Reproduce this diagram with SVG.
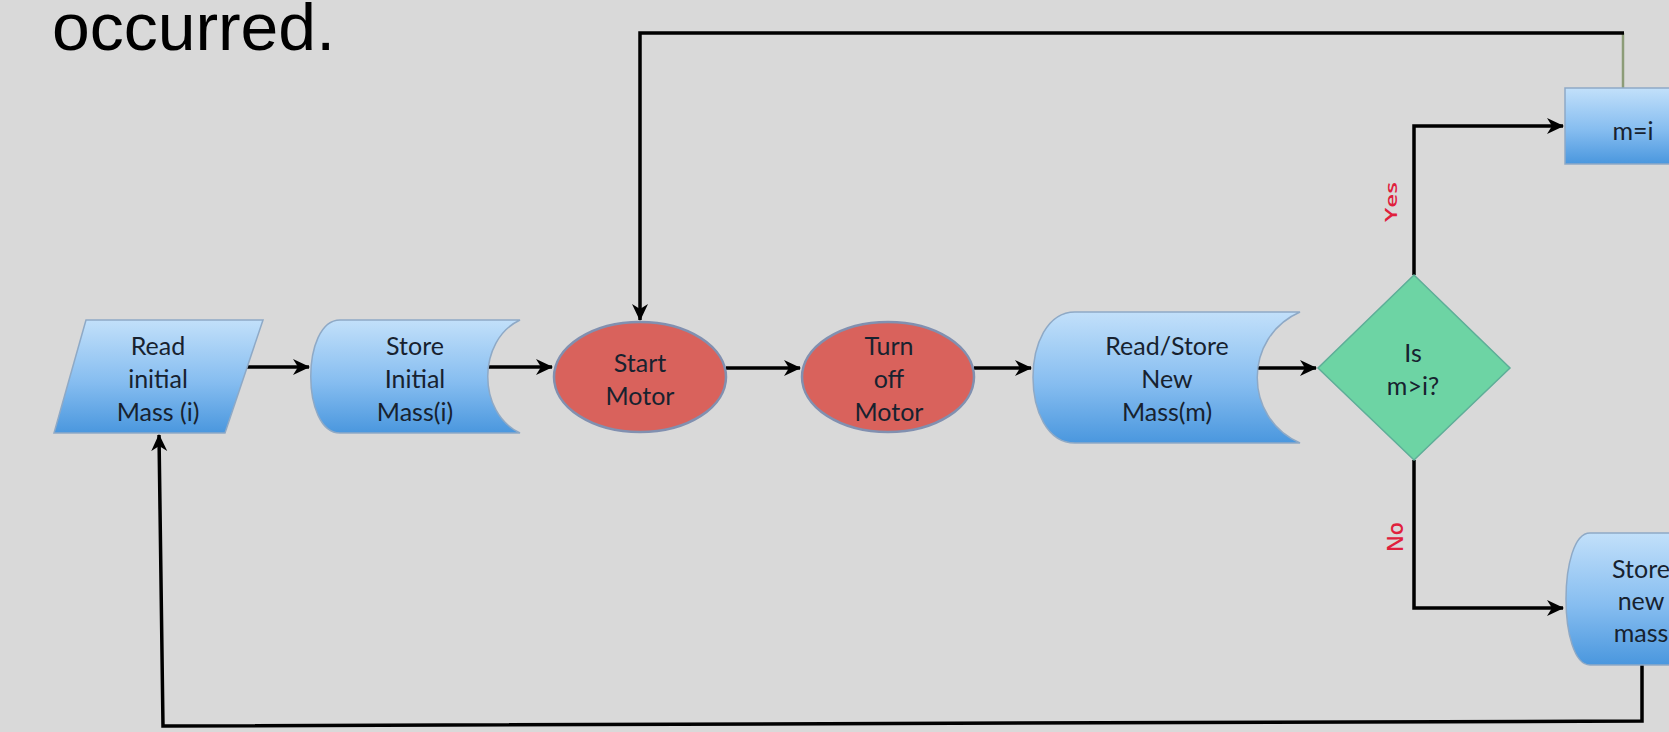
<svg xmlns="http://www.w3.org/2000/svg" width="1669" height="732" viewBox="0 0 1669 732">
<style>
.bg{fill:#d9d9d9}
.blue{fill:url(#gb);stroke:#8ea9c6;stroke-width:1.5}
.red{fill:#d9625c;stroke:#8190b0;stroke-width:2.5}
.dia{fill:#6dd4a4;stroke:#5eae98;stroke-width:1.5}
.t{font-family:Lato,"Open Sans",sans-serif;font-size:25px;fill:#17222f;text-anchor:middle}
.big{font-family:"Liberation Sans",Arial,sans-serif;font-size:67px;fill:#000}
.lbl{font-family:"Open Sans",Lato,sans-serif;font-weight:600;fill:#e0203c;text-anchor:middle}
.c{fill:none;stroke:#000;stroke-width:3.5}
</style>
<defs>
<linearGradient id="gb" x1="0" y1="0" x2="0" y2="1">
<stop offset="0" stop-color="#c2e0fa"/>
<stop offset="0.55" stop-color="#86bdf0"/>
<stop offset="1" stop-color="#4a97de"/>
</linearGradient>
<marker id="ah" viewBox="0 0 18 18" refX="16" refY="9" markerWidth="18" markerHeight="18" markerUnits="userSpaceOnUse" orient="auto">
<path d="M0,1 L17,9 L0,17 L5,9 Z" fill="#000"/>
</marker>
</defs>
<rect class="bg" x="0" y="0" width="1669" height="732"/>
<text class="big" x="52" y="50" textLength="283" lengthAdjust="spacingAndGlyphs">occurred.</text>

<g id="connectors">
<path class="c" d="M247,367 L309,367" marker-end="url(#ah)"/>
<path class="c" d="M488,367 L552,367" marker-end="url(#ah)"/>
<path class="c" d="M726,368 L800,368" marker-end="url(#ah)"/>
<path class="c" d="M974,368 L1031,368" marker-end="url(#ah)"/>
<path class="c" d="M1257,368 L1316,368" marker-end="url(#ah)"/>
<path class="c" d="M1414,275 L1414,126 L1563,126" marker-end="url(#ah)"/>
<path class="c" d="M1414,460 L1414,608 L1563,608" marker-end="url(#ah)"/>
<path d="M1623,88 L1623,33" fill="none" stroke="#8c9c78" stroke-width="2.5"/>
<path class="c" d="M1624,33 L640,33 L640,320" marker-end="url(#ah)"/>
<path class="c" d="M1642,665 L1642,721 L163,726 L159,435" marker-end="url(#ah)"/>
<text class="lbl" font-size="17" transform="translate(1397,202) rotate(-90)" textLength="40" lengthAdjust="spacingAndGlyphs">Yes</text>
<text class="lbl" font-size="22" transform="translate(1403,537) rotate(-90)" textLength="30" lengthAdjust="spacingAndGlyphs">No</text>
</g>

<g id="read-initial">
<path class="blue" d="M86,320 L263,320 L225,433 L54,433 Z"/>
<text class="t" x="158" y="355">Read</text>
<text class="t" x="158" y="388">initial</text>
<text class="t" x="158" y="421">Mass (i)</text>
</g>

<g id="store-initial">
<path class="blue" d="M340,320 L520,320 C477,340 477,413 520,433 L340,433 C301,433 301,320 340,320 Z"/>
<text class="t" x="415" y="355">Store</text>
<text class="t" x="415" y="388">Initial</text>
<text class="t" x="415" y="421">Mass(i)</text>
</g>

<g id="start-motor">
<ellipse class="red" cx="640" cy="377" rx="86" ry="55"/>
<text class="t" x="640" y="372">Start</text>
<text class="t" x="640" y="405">Motor</text>
</g>

<g id="turn-off-motor">
<ellipse class="red" cx="888" cy="377" rx="86" ry="55"/>
<text class="t" x="889" y="355">Turn</text>
<text class="t" x="889" y="388">off</text>
<text class="t" x="889" y="421">Motor</text>
</g>

<g id="read-store-new">
<path class="blue" d="M1075,312 L1300,312 C1243,337 1243,418 1300,443 L1075,443 C1019,443 1019,312 1075,312 Z"/>
<text class="t" x="1167" y="355">Read/Store</text>
<text class="t" x="1167" y="388">New</text>
<text class="t" x="1167" y="421">Mass(m)</text>
</g>

<g id="decision">
<path class="dia" d="M1414,275 L1510,368 L1414,460 L1318,368 Z"/>
<text class="t" x="1413" y="362">Is</text>
<text class="t" x="1413" y="395">m&gt;i?</text>
</g>

<g id="m-equals-i">
<rect class="blue" x="1565" y="88" width="130" height="76"/>
<text class="t" x="1633" y="140">m=i</text>
</g>

<g id="store-new-mass">
<path class="blue" d="M1590,533 L1700,533 L1700,665 L1590,665 C1558,665 1558,533 1590,533 Z"/>
<text class="t" x="1641" y="578">Store</text>
<text class="t" x="1641" y="610">new</text>
<text class="t" x="1641" y="642">mass</text>
</g>
</svg>
